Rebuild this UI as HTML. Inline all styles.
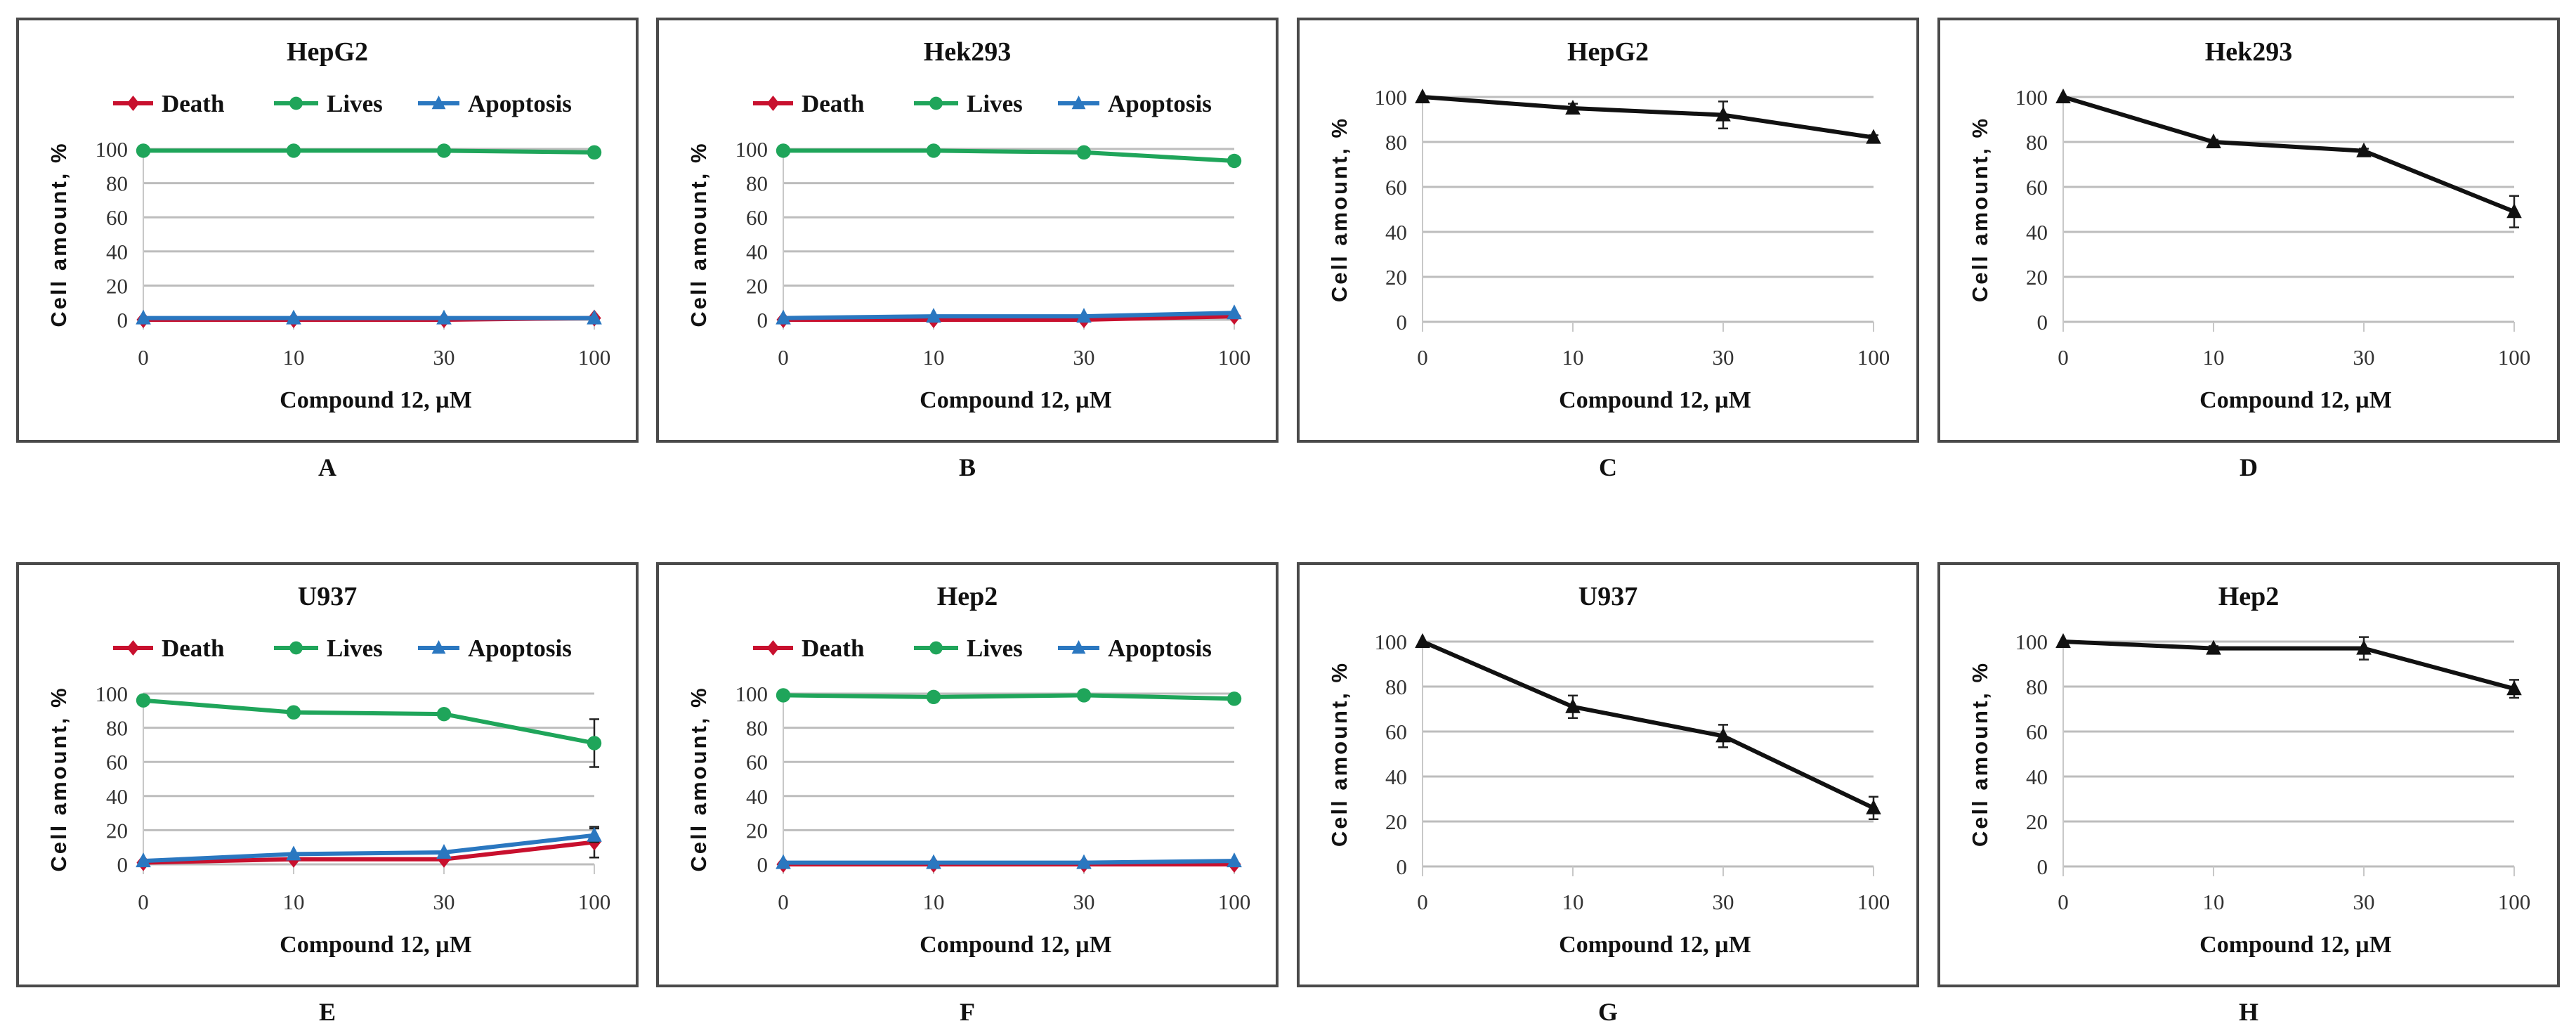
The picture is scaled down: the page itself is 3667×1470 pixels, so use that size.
<!DOCTYPE html>
<html><head><meta charset="utf-8"><style>
html,body{margin:0;padding:0;background:#fff;}
svg{display:block;font-family:"Liberation Serif",serif;}
</style></head><body>
<svg id="fig" width="3667" height="1470" viewBox="0 0 3667 1470" xmlns="http://www.w3.org/2000/svg"></svg>
<script>
const doses = ["0","10","30","100"];
const yTicks = [0,20,40,60,80,100];
const seriesNames = ["Death","Lives","Apoptosis"];
// panel A HepG2
const aDeath = [0,0,0,1];
const aLives = [99,99,99,98];
const aApop = [1,1,1,1];
// panel B Hek293
const bDeath = [0,0,0,2];
const bLives = [99,99,98,93];
const bApop = [1,2,2,4];
// panel E U937
const eDeath = [1,3,3,13];
const eDeathErr = [0,0,0,9];
const eLives = [96,89,88,71];
const eLivesErr = [0,0,0,14];
const eApop = [2,6,7,17];
const eApopErr = [0,0,0,4];
// panel F Hep2
const fDeath = [0,0,0,0];
const fLives = [99,98,99,97];
const fApop = [1,1,1,2];
// viability panels
const cVals = [100,95,92,82];
const cErr = [0,2,6,1];
const dVals = [100,80,76,49];
const dErr = [0,1,1,7];
const gVals = [100,71,58,26];
const gErr = [0,5,5,5];
const hVals = [100,97,97,79];
const hErr = [0,1,5,4];

const NS="http://www.w3.org/2000/svg";
const svg=document.getElementById('fig');
function mk(tag,attrs,parent){const e=document.createElementNS(NS,tag);for(const k in attrs)e.setAttribute(k,attrs[k]);(parent||svg).appendChild(e);return e;}
const colors={Death:"#c8102e",Lives:"#1fa55a",Apoptosis:"#2a77c0"};

function marker(g,type,x,y,color,s){
  let m;
  if(type==="Death"){m=mk('polygon',{points:`${x},${y-s} ${x+s*0.8},${y} ${x},${y+s} ${x-s*0.8},${y}`,fill:color},g);}
  else if(type==="Lives"){m=mk('circle',{cx:x,cy:y,r:s*0.85,fill:color},g);}
  else {m=mk('polygon',{points:`${x},${y-s} ${x+s*0.9},${y+s*0.75} ${x-s*0.9},${y+s*0.75}`,fill:color},g);}
  return m;
}

function panel(px,py,type,title,letter,series){
  const g=mk('g',{});
  
  
  const box=mk('rect',{x:px,y:py,width:882,height:601,fill:'#fff',stroke:'#4a4a4a','stroke-width':4},g);
  
  
  const ax=px+(type===1?179:177), axR=px+(type===1?821:819);
  const y100=py+(type===1?185:111), y0=py+(type===1?428:431);
  const xs=i=>ax+(axR-ax)*i/(doses.length-1);
  const ys=v=>y0+(y100-y0)*v/100;
  const t=mk('text',{x:px+441,y:py+59,'text-anchor':'middle','font-size':38,'font-weight':'bold',fill:'#111'},g);
  t.textContent=title;
  
  
  yTicks.forEach(v=>{
    const gl=mk('line',{x1:ax,x2:axR,y1:ys(v),y2:ys(v),stroke:'#bdbdbd','stroke-width':3},g);
    
    
    const tl=mk('text',{x:ax-22,y:ys(v)+11,'text-anchor':'end','font-size':31,fill:'#333'},g);
    tl.textContent=v;
    
    
  });
  const yaxis=mk('line',{x1:ax,x2:ax,y1:y100,y2:y0+12,stroke:'#c8c8c8','stroke-width':2},g);
  
  
  doses.forEach((d,i)=>{
    const tk=mk('line',{x1:xs(i),x2:xs(i),y1:y0,y2:y0+14,stroke:'#c8c8c8','stroke-width':2},g);
    
    
    const tl=mk('text',{x:xs(i),y:py+492,'text-anchor':'middle','font-size':31,fill:'#333'},g);
    tl.textContent=d;
    
    
  });
  const xt=mk('text',{x:(ax+axR)/2+10,y:py+553,'text-anchor':'middle','font-size':34,'font-weight':'bold',fill:'#111'},g);
  xt.textContent='Compound 12, µM';
  
  
  const ycx=px+58, ycy=(y100+y0)/2;
  const yt=mk('text',{x:ycx,y:ycy,'text-anchor':'middle','font-size':31,'font-weight':'bold','letter-spacing':3,'font-family':'Liberation Sans, sans-serif',fill:'#111',transform:`rotate(-90 ${ycx} ${ycy}) translate(0 11)`},g);
  yt.textContent='Cell amount, %';
  
  
  const lt=mk('text',{x:px+441,y:py+650,'text-anchor':'middle','font-size':36,'font-weight':'bold',fill:'#111'},g);
  lt.textContent=letter;
  
  
  if(type===1){
    const legX=[[136,205],[365,440],[570,641]];
    seriesNames.forEach((n,k)=>{
      const lg=mk('g',{},g);
      
      
      const ly=py+120;
      mk('line',{x1:px+legX[k][0],x2:px+legX[k][1]-12,y1:ly,y2:ly,stroke:colors[n],'stroke-width':6},lg);
      marker(lg,n,px+(legX[k][0]+legX[k][1]-12)/2,ly,colors[n],11);
      const tx=mk('text',{x:px+legX[k][1],y:py+132,'font-size':35,'font-weight':'bold',fill:'#111'},lg);
      tx.textContent=n;
    });
  }
  series.forEach(s=>{
    const sg=mk('g',{},g);
    
    
    s.err.forEach((e,i)=>{
      if(e>0){
        const x=xs(i);
        mk('line',{x1:x,x2:x,y1:ys(s.vals[i]+e),y2:ys(s.vals[i]-e),stroke:'#222','stroke-width':2.5},sg);
        mk('line',{x1:x-7,x2:x+7,y1:ys(s.vals[i]+e),y2:ys(s.vals[i]+e),stroke:'#222','stroke-width':2.5},sg);
        mk('line',{x1:x-7,x2:x+7,y1:ys(s.vals[i]-e),y2:ys(s.vals[i]-e),stroke:'#222','stroke-width':2.5},sg);
      }
    });
    const pts=s.vals.map((v,i)=>xs(i)+','+ys(v)).join(' ');
    const pl=mk('polyline',{points:pts,fill:'none',stroke:s.color,'stroke-width':6,'stroke-linejoin':'round'},sg);
    
    
    s.vals.forEach((v,i)=>{
      const m=marker(sg,s.marker,xs(i),ys(v),s.color,12);
      
      
    });
  });
}
const z=[0,0,0,0];
function tri(d,l,a,de,le,ae){return [
  {name:'Death',vals:d,err:de||z,color:colors.Death,marker:'Death'},
  {name:'Apoptosis',vals:a,err:ae||z,color:colors.Apoptosis,marker:'Apoptosis'},
  {name:'Lives',vals:l,err:le||z,color:colors.Lives,marker:'Lives'}];}
function one(v,e){return [{name:'Viability',vals:v,err:e,color:'#111',marker:'Apoptosis'}];}
const X=[25,936,1848,2760], Y=[27,802];
panel(X[0],Y[0],1,'HepG2','A',tri(aDeath,aLives,aApop));
panel(X[1],Y[0],1,'Hek293','B',tri(bDeath,bLives,bApop));
panel(X[2],Y[0],2,'HepG2','C',one(cVals,cErr));
panel(X[3],Y[0],2,'Hek293','D',one(dVals,dErr));
panel(X[0],Y[1],1,'U937','E',tri(eDeath,eLives,eApop,eDeathErr,eLivesErr,eApopErr));
panel(X[1],Y[1],1,'Hep2','F',tri(fDeath,fLives,fApop));
panel(X[2],Y[1],2,'U937','G',one(gVals,gErr));
panel(X[3],Y[1],2,'Hep2','H',one(hVals,hErr));
</script>
</body></html>
